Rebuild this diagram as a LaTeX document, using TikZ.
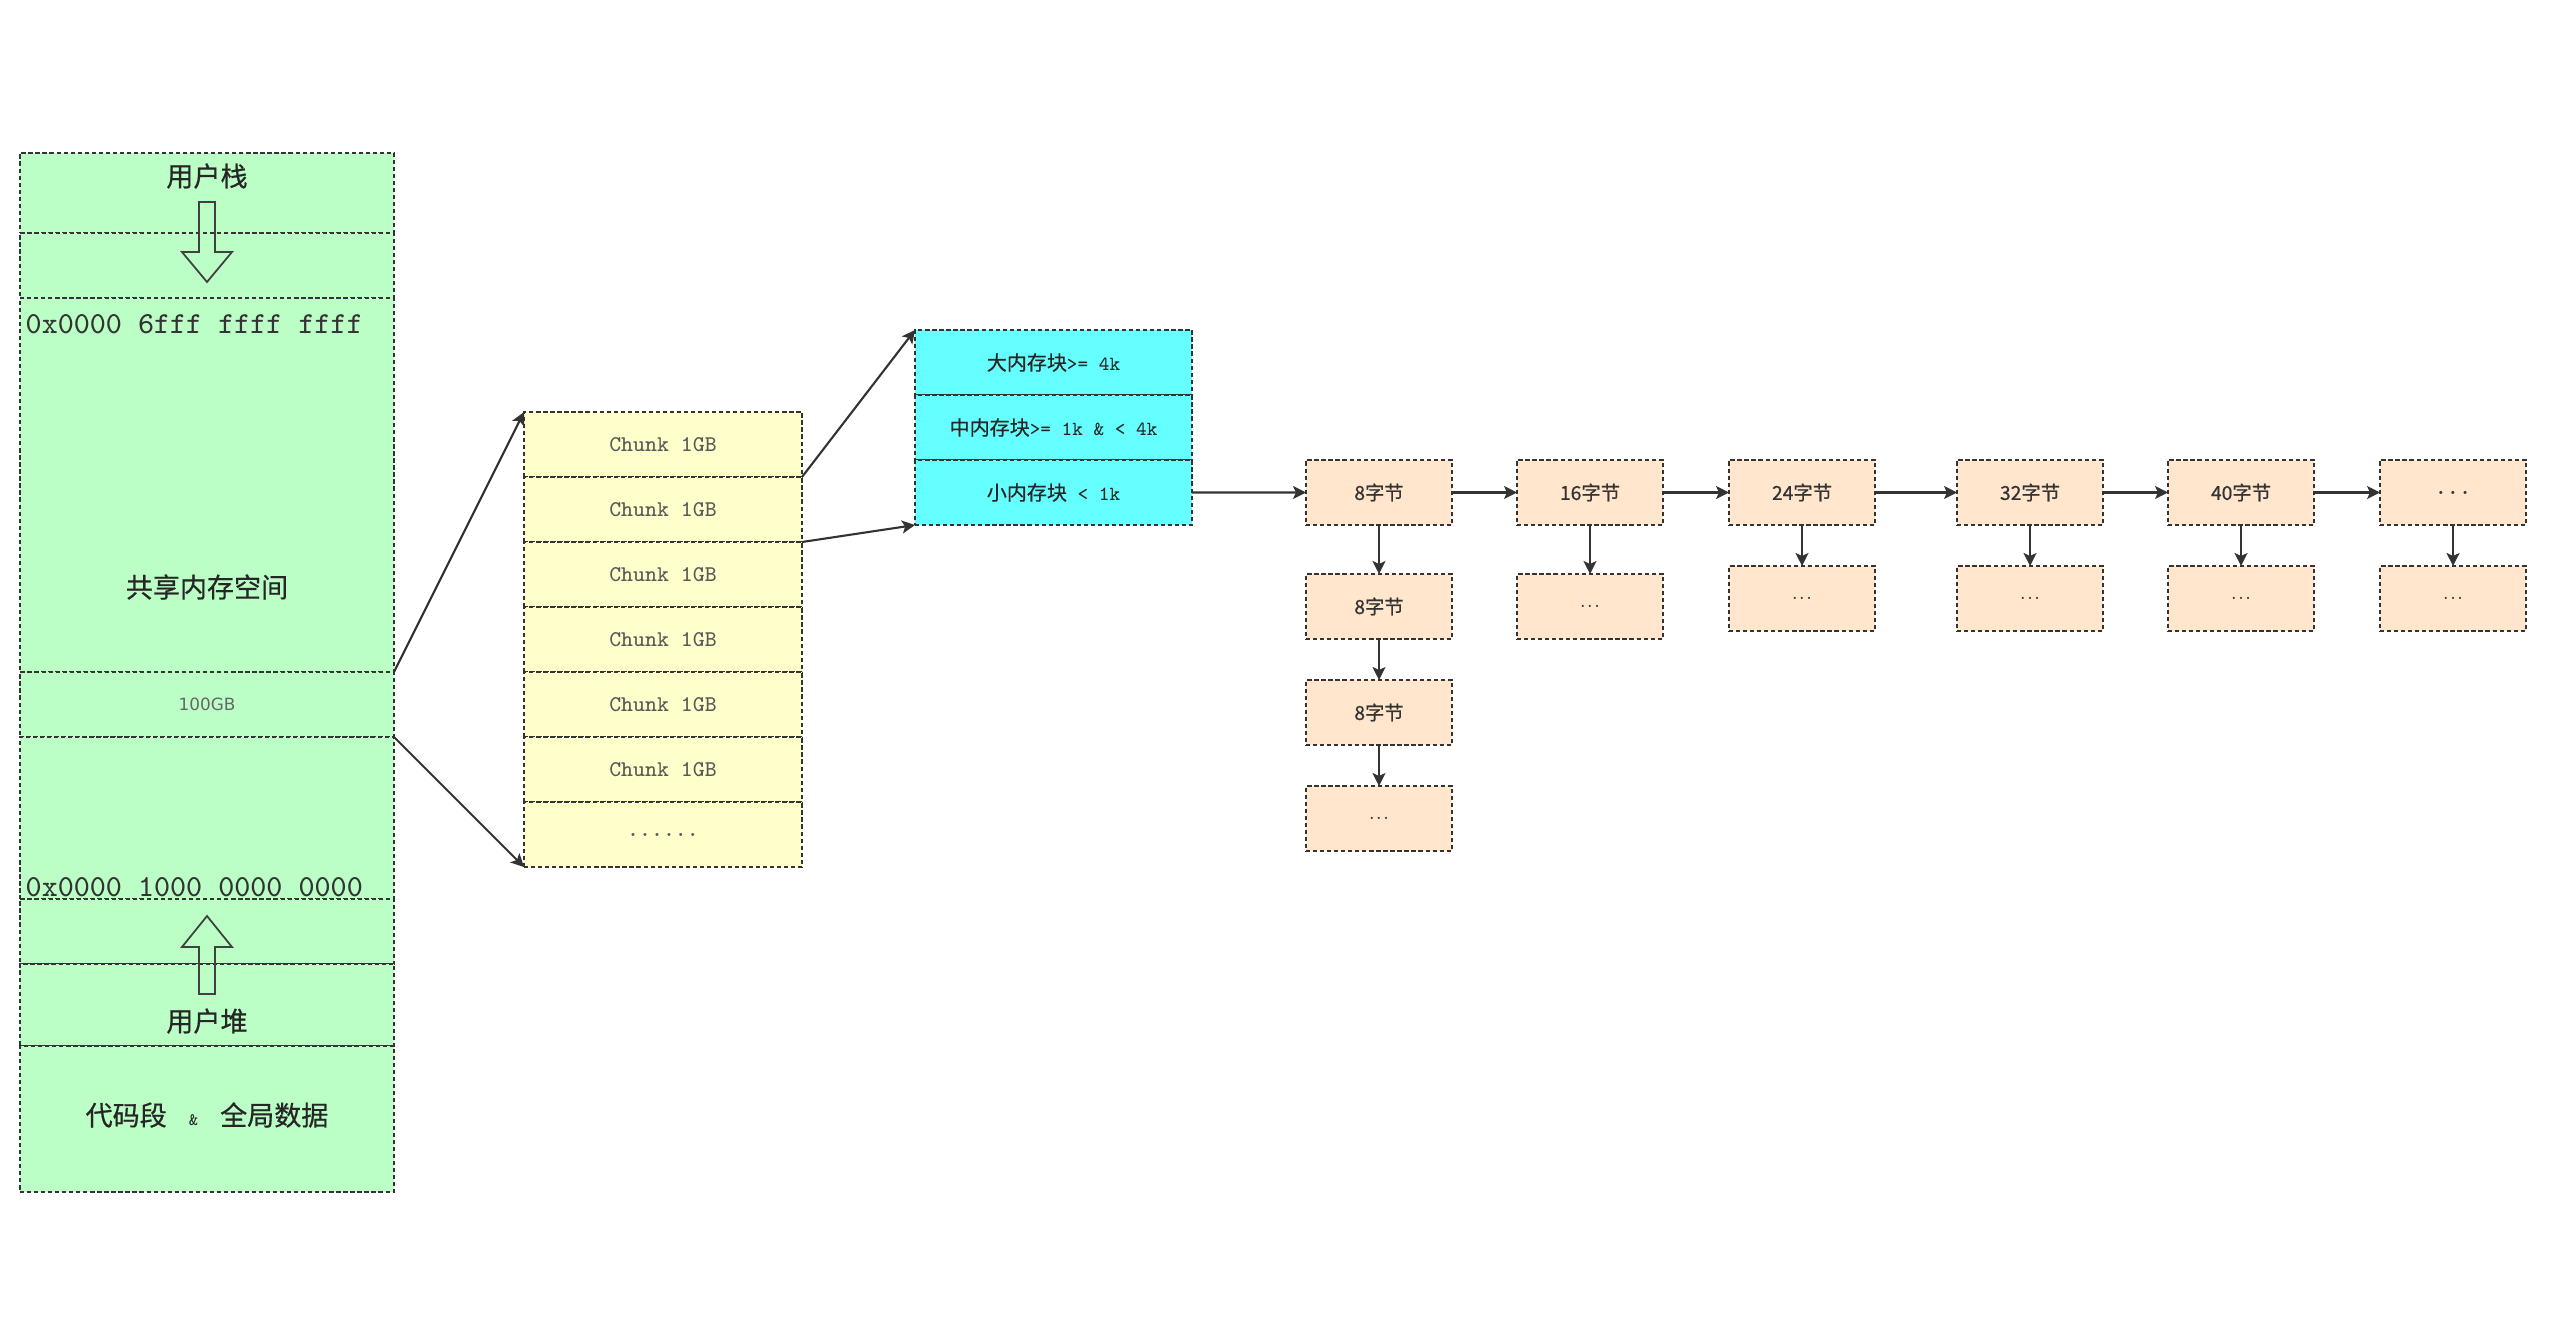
\documentclass[tikz,border=0pt]{standalone}
\usepackage{fontspec}
\newfontfamily\cjk{Noto Sans CJK SC}[FakeBold=0.6]
\newfontfamily\dvs{DejaVu Sans}
\usetikzlibrary{arrows.meta,positioning}
\definecolor{memgreen}{HTML}{BBFFC6}
\definecolor{chunkyellow}{HTML}{FFFFCC}
\definecolor{blkcyan}{HTML}{66FFFF}
\definecolor{byteorange}{HTML}{FFE6CC}

\begin{document}
\begin{tikzpicture}[
  cell/.style={draw=black!80,dash pattern=on 1.2pt off 0.8pt,line width=0.55pt,inner sep=0pt,outer sep=0pt,anchor=north},
  mem/.style={cell,fill=memgreen,minimum width=3.74cm},
  chunk/.style={cell,fill=chunkyellow,minimum width=2.78cm,minimum height=0.65cm,text=black!65,font=\ttfamily\fontsize{6.4}{7}\selectfont},
  blk/.style={cell,fill=blkcyan,minimum width=2.77cm,minimum height=0.65cm,text=black!85,font=\ttfamily\fontsize{5.7}{7}\selectfont},
  bytes/.style={cell,anchor=center,fill=byteorange,minimum width=1.46cm,minimum height=0.65cm,text=black!80,font=\cjk\fontsize{5.5}{7}\selectfont},
  more/.style={font=\fontsize{5}{6}\selectfont},
  big/.style={text=black!85,font=\cjk\fontsize{7.7}{9}\selectfont},
  addr/.style={anchor=west,inner sep=0pt,text=black!80,font=\ttfamily\fontsize{8.7}{10}\selectfont},
  hollow/.style={draw=black!75,line width=0.5pt},
  arr/.style={-{Stealth[length=1.3mm,width=1.3mm,inset=0.3mm]},line width=0.6pt,black!80}]
\useasboundingbox (0,0) rectangle (25.5,-13.42);
% address space
\node[mem,minimum height=0.80cm] (m1) at (2.07,-1.53) {};
\node[mem,minimum height=0.65cm] (m2) at (2.07,-2.33) {};
\node[mem,minimum height=3.74cm] (m3) at (2.07,-2.98) {};
\node[mem,minimum height=0.65cm] (m4) at (2.07,-6.72) {};
\node[mem,minimum height=1.62cm] (m5) at (2.07,-7.37) {};
\node[mem,minimum height=0.65cm] (m6) at (2.07,-8.99) {};
\node[mem,minimum height=0.82cm] (m7) at (2.07,-9.64) {};
\node[mem,minimum height=1.46cm] (m8) at (2.07,-10.46) {};
\node[big] (stack) at (2.07,-1.76) {用户栈};
\node[addr] (top) at (0.25,-3.24) {0x0000 6fff ffff ffff};
\node[big] (shm) at (2.07,-5.87) {共享内存空间};
\node[text=black!60,font=\dvs\fontsize{4.8}{6}\selectfont] (size) at (m4) {100GB};
\node[addr] (bottom) at (0.25,-8.87) {0x0000 1000 0000 0000};
\node[big] (heap) at (2.07,-10.21) {用户堆};
\node[big] (code) at (2.07,-11.15) {代码段\hspace{2.2mm}{\ttfamily\fontsize{5}{6}\selectfont\&}\hspace{2.2mm}全局数据};
\draw[hollow](1.99,-2.02)--(2.15,-2.02)--(2.15,-2.52)--(2.32,-2.52)--(2.07,-2.82)--(1.82,-2.52)--(1.99,-2.52)--cycle;
\draw[hollow](2.07,-9.16)--(2.32,-9.47)--(2.15,-9.47)--(2.15,-9.94)--(1.99,-9.94)--(1.99,-9.47)--(1.82,-9.47)--cycle;
% chunks
\node[chunk] (c1) at (6.63,-4.12) {Chunk 1GB};
\node[chunk,below=0cm of c1] (c2) {Chunk 1GB};
\node[chunk,below=0cm of c2] (c3) {Chunk 1GB};
\node[chunk,below=0cm of c3] (c4) {Chunk 1GB};
\node[chunk,below=0cm of c4] (c5) {Chunk 1GB};
\node[chunk,below=0cm of c5] (c6) {Chunk 1GB};
\node[chunk,below=0cm of c6] (c7) {......};
\draw[arr](m4.north east)--(c1.north west);
\draw[arr](m4.south east)--(c7.south west);
% blocks
\node[blk] (big) at (10.535,-3.30) {{\cjk 大内存块}>= 4k};
\node[blk,below=0cm of big] (mid) {{\cjk 中内存块}>= 1k \& < 4k};
\node[blk,below=0cm of mid] (small) {{\cjk 小内存块} < 1k};
\draw[arr](c1.south east)--(big.north west);
\draw[arr](c2.south east)--(small.south west);
% size classes
\node[bytes] (b8) at (13.79,-4.925) {8字节};
\node[bytes,right=0.65cm of b8] (b16) {16字节};
\node[bytes,right=0.66cm of b16] (b24) {24字节};
\node[bytes,right=0.82cm of b24] (b32) {32字节};
\node[bytes,right=0.65cm of b32] (b40) {40字节};
\node[bytes,right=0.66cm of b40,font=\ttfamily\fontsize{6.5}{7}\selectfont] (bn) {...};
\node[bytes,below=0.49cm of b8] (b8a) {8字节};
\node[bytes,below=0.41cm of b8a] (b8b) {8字节};
\node[bytes,more,below=0.41cm of b8b] (b8c) {...};
\node[bytes,more,below=0.49cm of b16] (b16a) {...};
\node[bytes,more,below=0.41cm of b24] (b24a) {...};
\node[bytes,more,below=0.41cm of b32] (b32a) {...};
\node[bytes,more,below=0.41cm of b40] (b40a) {...};
\node[bytes,more,below=0.41cm of bn] (bna) {...};
\draw[arr](small)--(b8);
\draw[arr](b8)--(b16);
\draw[arr](b16)--(b24);
\draw[arr](b24)--(b32);
\draw[arr](b32)--(b40);
\draw[arr](b40)--(bn);
\draw[arr](b8)--(b8a);
\draw[arr](b8a)--(b8b);
\draw[arr](b8b)--(b8c);
\draw[arr](b16)--(b16a);
\draw[arr](b24)--(b24a);
\draw[arr](b32)--(b32a);
\draw[arr](b40)--(b40a);
\draw[arr](bn)--(bna);
\end{tikzpicture}
\end{document}
